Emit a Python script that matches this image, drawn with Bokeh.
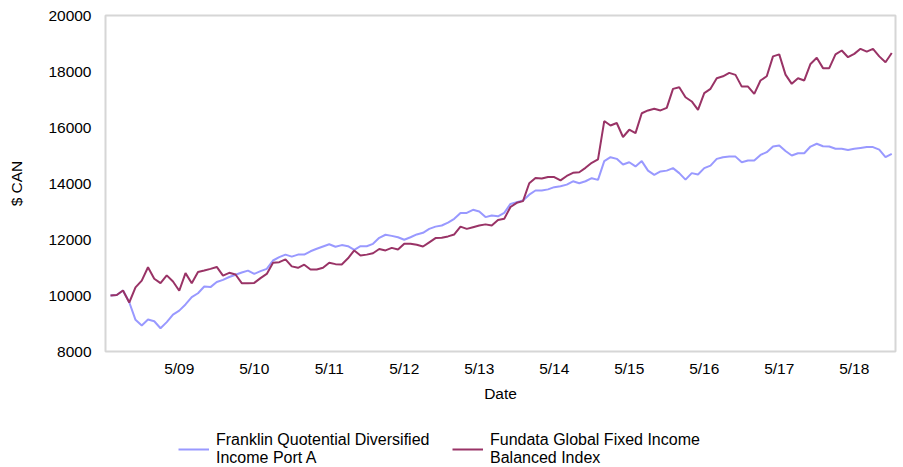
from bokeh.plotting import figure
from bokeh.models import Range1d, FixedTicker, Legend, LegendItem
from bokeh.layouts import column
from bokeh.embed import file_html
from bokeh.resources import INLINE
import pandas as pd

franklin = [
    10000, 10020, 10180, 9760, 9130, 8930, 9140, 9080, 8830, 9050,
    9320, 9460, 9680, 9940, 10080, 10320, 10300, 10480, 10560, 10660,
    10740, 10820, 10890, 10770, 10870, 10950, 11250, 11370, 11460, 11390,
    11460, 11460, 11580, 11670, 11750, 11830, 11740, 11800, 11760, 11630,
    11760, 11760, 11845, 12060, 12170, 12130, 12080, 11990, 12080, 12180,
    12240, 12380, 12460, 12500, 12600, 12740, 12950, 12950, 13060, 13000,
    12800, 12860, 12830, 12950, 13270, 13330, 13390, 13600, 13750, 13750,
    13790, 13870, 13900, 13960, 14080, 14010, 14080, 14190, 14130, 14800,
    14940, 14880, 14680, 14760, 14610, 14800, 14460, 14310, 14430, 14460,
    14550, 14370, 14140, 14370, 14320, 14550, 14640, 14880, 14940, 14960,
    14960, 14760, 14820, 14820, 15020, 15120, 15320, 15360, 15160, 15000,
    15080, 15080, 15320, 15420, 15330, 15320, 15240, 15240, 15200, 15240,
    15270, 15300, 15300, 15210, 14940, 15060,
]
fundata = [
    10000, 10020, 10180, 9750, 10290, 10530, 11010, 10600, 10440, 10720,
    10500, 10170, 10800, 10440, 10840, 10890, 10950, 11020, 10710, 10810,
    10750, 10440, 10440, 10450, 10620, 10770, 11170, 11190, 11290, 11040,
    10990, 11100, 10930, 10930, 10990, 11170, 11120, 11110, 11330, 11610,
    11430, 11460, 11510, 11660, 11610, 11700, 11640, 11850, 11850, 11810,
    11750, 11900, 12050, 12060, 12110, 12180, 12460, 12380, 12440, 12500,
    12540, 12500, 12700, 12740, 13160, 13310, 13370, 14010, 14200, 14180,
    14230, 14230, 14110, 14270, 14380, 14400, 14560, 14740, 14860, 16230,
    16070, 16160, 15660, 15920, 15800, 16510, 16610, 16670, 16610, 16700,
    17380, 17440, 17080, 16930, 16630, 17230, 17380, 17760, 17830, 17950,
    17880, 17460, 17460, 17200, 17680, 17830, 18540, 18610, 17890, 17560,
    17760, 17680, 18270, 18490, 18120, 18120, 18610, 18750, 18510, 18630,
    18810, 18710, 18810, 18540, 18330, 18660,
]
series_names = ["Franklin Quotential Diversified\nIncome Port A",
                "Fundata Global Fixed Income\nBalanced Index"]
series_colors = ["#9999ff", "#993366"]
y_ticks = [8000, 10000, 12000, 14000, 16000, 18000, 20000]

dates = pd.date_range("2008-06-01", periods=len(franklin), freq="MS")
x = list(range(len(dates)))
tick_pos = [i for i, d in enumerate(dates) if d.month == 5]
tick_lab = {i: f"{dates[i].month}/{dates[i].year % 100:02d}" for i in tick_pos}

FONT = "Liberation Sans"
FS = "15.5px"
xr = Range1d(-0.8, 125.6)
yr = Range1d(8000, 20000)

p = figure(width=897, height=410, output_backend="svg", toolbar_location=None,
           x_range=xr, y_range=yr,
           min_border_left=105, min_border_right=2, min_border_top=15,
           min_border_bottom=59)
p.grid.visible = False
p.outline_line_color = "#d6d6d6"
p.outline_line_width = 2

for ax in (p.xaxis[0], p.yaxis[0]):
    ax.axis_line_color = None
    ax.major_tick_line_color = None
    ax.minor_tick_line_color = None
    ax.major_tick_out = 0
    ax.major_tick_in = 0
    ax.major_label_text_font = FONT
    ax.major_label_text_font_size = FS
    ax.major_label_text_color = "#000000"
    ax.axis_label_text_font = FONT
    ax.axis_label_text_font_size = FS
    ax.axis_label_text_font_style = "normal"
    ax.axis_label_text_color = "#000000"

p.yaxis.ticker = FixedTicker(ticks=y_ticks)
p.yaxis.major_label_standoff = 14
p.yaxis.axis_label = "$ CAN"
p.yaxis.axis_label_standoff = 20
p.xaxis.ticker = FixedTicker(ticks=tick_pos)
p.xaxis.major_label_overrides = tick_lab
p.xaxis.major_label_standoff = 8
p.xaxis.axis_label = "Date"
p.xaxis.axis_label_standoff = 5

for ys, c in zip((franklin, fundata), series_colors):
    p.line(x, ys, line_color=c, line_width=2)

# legend strip below the chart (its own canvas, so the legend is not clipped)
leg = figure(width=897, height=57, output_backend="svg", toolbar_location=None,
             x_range=xr, y_range=yr, min_border=0)
leg.axis.visible = False
leg.grid.visible = False
leg.outline_line_color = None
for ys, c, name, loc in zip((franklin, fundata), series_colors, series_names,
                            ((73, 0), (347, 0))):
    r = leg.line(x, ys, line_color=c, line_width=2, visible=False)
    lg = Legend(items=[LegendItem(label=name, renderers=[r])], location=loc,
                padding=0, margin=0, spacing=0, glyph_width=31, glyph_height=20,
                label_standoff=7, border_line_color=None, background_fill_alpha=0,
                label_text_font=FONT, label_text_font_size="16px",
                label_text_color="#000000")
    leg.add_layout(lg, "center")

open("out.html", "w").write(file_html(column(p, leg, spacing=0), INLINE))
